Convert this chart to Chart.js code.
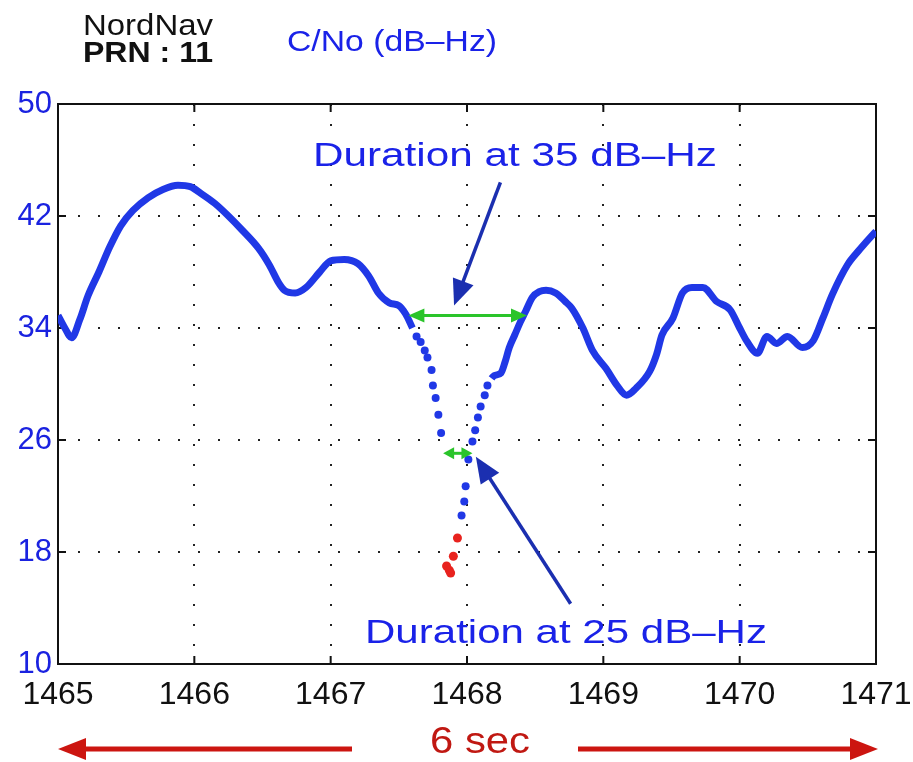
<!DOCTYPE html>
<html>
<head>
<meta charset="utf-8">
<script src="https://cdn.jsdelivr.net/npm/chart.js@4/dist/chart.umd.min.js"></script>
<style>
  html, body { margin: 0; padding: 0; background: #fff; }
  #wrap { width: 913px; height: 762px; }
</style>
</head>
<body>
<div id="wrap"><canvas id="cnoChart" width="913" height="762"></canvas></div>
<script>
// --- Data ---
const xTicks = [1465, 1466, 1467, 1468, 1469, 1470, 1471];
const yTicks = [10, 18, 26, 34, 42, 50];

// C/No track, seconds
const cnoTime = [
  1465.00, 1465.05, 1465.10, 1465.16, 1465.22, 1465.30, 1465.38, 1465.46, 1465.55, 1465.66,
  1465.77, 1465.88, 1465.97, 1466.05, 1466.15, 1466.25, 1466.35, 1466.47, 1466.55, 1466.62,
  1466.66, 1466.74, 1466.82, 1466.92, 1467.00, 1467.10, 1467.20, 1467.28, 1467.35, 1467.43,
  1467.50, 1467.55, 1467.60,
  // dip (sparse samples)
  1467.63, 1467.66, 1467.69, 1467.71, 1467.74, 1467.75, 1467.77, 1467.79, 1467.81,
  1467.96, 1467.98, 1467.99, 1468.01, 1468.04, 1468.06, 1468.08, 1468.10, 1468.13, 1468.15, 1468.18,
  // recovery
  1468.20, 1468.25, 1468.28, 1468.31, 1468.35, 1468.39, 1468.43, 1468.48, 1468.53, 1468.58,
  1468.65, 1468.72, 1468.77, 1468.85, 1468.92, 1469.02, 1469.10, 1469.17, 1469.24, 1469.34,
  1469.39, 1469.43, 1469.51, 1469.58, 1469.65, 1469.73, 1469.83, 1469.93, 1470.00, 1470.05,
  1470.13, 1470.20, 1470.27, 1470.35, 1470.46, 1470.54, 1470.61, 1470.68, 1470.79, 1470.88,
  1470.97, 1471.00
];
const cnoValue = [
  34.9, 34.0, 33.3, 34.6, 36.3, 38.0, 39.8, 41.3, 42.4, 43.3,
  43.9, 44.2, 44.1, 43.6, 42.9, 42.0, 41.0, 39.7, 38.5, 37.2,
  36.7, 36.5, 36.9, 38.0, 38.8, 38.9, 38.6, 37.7, 36.5, 35.8,
  35.6, 35.0, 34.0,
  33.4, 33.0, 32.4, 31.9, 31.0, 29.9, 29.0, 27.8, 26.5,
  20.6, 21.6, 22.7, 24.6, 25.9, 26.7, 27.6, 28.4, 29.2, 29.9, 30.4,
  30.6, 30.8, 31.6, 32.6, 33.5, 34.4, 35.2, 36.2, 36.6, 36.7,
  36.5, 35.9, 35.4, 34.0, 32.4, 31.1, 29.9, 29.2, 29.7, 30.9,
  32.1, 33.5, 34.7, 36.5, 36.9, 36.9, 35.9, 35.3, 34.0, 33.1,
  32.2, 33.4, 32.9, 33.4, 32.6, 33.1, 34.7, 36.4, 38.5, 39.6,
  40.6, 40.9
];

// samples below tracking threshold (red)
const lostTime = [1467.85, 1467.87, 1467.88, 1467.90, 1467.93];
const lostValue = [17.0, 16.7, 16.5, 17.7, 19.0];

const DIP_START = 1467.60;
const DIP_END = 1468.18;

const BLUE = "#2038e6";
const RED = "#e8231e";
const FONT = "'Liberation Sans', Arial, sans-serif";

// --- Annotation drawing ---
function arrowHead(ctx, x0, y0, x1, y1, len, half) {
  const a = Math.atan2(y1 - y0, x1 - x0);
  ctx.beginPath();
  ctx.moveTo(x1, y1);
  ctx.lineTo(x1 - len * Math.cos(a) + half * Math.sin(a), y1 - len * Math.sin(a) - half * Math.cos(a));
  ctx.lineTo(x1 - len * Math.cos(a) - half * Math.sin(a), y1 - len * Math.sin(a) + half * Math.cos(a));
  ctx.closePath();
  ctx.fill();
}

function arrow(ctx, x0, y0, x1, y1, color, width, len, half, both) {
  const a = Math.atan2(y1 - y0, x1 - x0);
  ctx.save();
  ctx.strokeStyle = color;
  ctx.fillStyle = color;
  ctx.lineWidth = width;
  ctx.beginPath();
  ctx.moveTo(both ? x0 + len * 0.8 * Math.cos(a) : x0, both ? y0 + len * 0.8 * Math.sin(a) : y0);
  ctx.lineTo(x1 - len * 0.8 * Math.cos(a), y1 - len * 0.8 * Math.sin(a));
  ctx.stroke();
  arrowHead(ctx, x0, y0, x1, y1, len, half);
  if (both) arrowHead(ctx, x1, y1, x0, y0, len, half);
  ctx.restore();
}

function stretchText(ctx, text, cx, y, font, color, targetWidth) {
  ctx.save();
  ctx.font = font;
  ctx.fillStyle = color;
  ctx.textAlign = "center";
  ctx.textBaseline = "alphabetic";
  const w = ctx.measureText(text).width;
  ctx.translate(cx, y);
  ctx.scale(targetWidth / w, 1);
  ctx.fillText(text, 0, 0);
  ctx.restore();
}

const annotations = {
  id: "annotations",
  beforeDatasetsDraw(chart) {
    const { ctx, chartArea: ca, scales: { x, y } } = chart;
    // frame and inward tick marks
    ctx.save();
    ctx.strokeStyle = "#111";
    ctx.lineWidth = 2;
    ctx.strokeRect(ca.left, ca.top, ca.right - ca.left, ca.bottom - ca.top);
    ctx.beginPath();
    xTicks.forEach(v => {
      const p = x.getPixelForValue(v);
      ctx.moveTo(p, ca.bottom); ctx.lineTo(p, ca.bottom - 8);
      ctx.moveTo(p, ca.top); ctx.lineTo(p, ca.top + 8);
    });
    yTicks.forEach(v => {
      const p = y.getPixelForValue(v);
      ctx.moveTo(ca.left, p); ctx.lineTo(ca.left + 8, p);
      ctx.moveTo(ca.right, p); ctx.lineTo(ca.right - 8, p);
    });
    ctx.stroke();
    ctx.restore();
  },
  afterDatasetsDraw(chart) {
    const { ctx, chartArea: ca, scales: { x, y } } = chart;
    const X = v => x.getPixelForValue(v);
    const Y = v => y.getPixelForValue(v);

    // durations (green)
    arrow(ctx, X(1467.57), Y(34.9), X(1468.44), Y(34.9), "#2ac42a", 3, 16, 7, true);
    arrow(ctx, X(1467.825), Y(25.05), X(1468.04), Y(25.05), "#2ac42a", 3, 11, 6, true);

    // pointers (blue)
    arrow(ctx, X(1468.245), Y(44.4), X(1467.905), Y(35.6), "#1b2fb0", 3.5, 26, 11, false);
    arrow(ctx, X(1468.76), Y(14.3), X(1468.065), Y(24.8), "#1b2fb0", 3.5, 26, 11, false);

    stretchText(ctx, "Duration at 35 dB\u2013Hz", 515, 166, "34px " + FONT, "#1a22e8", 404);
    stretchText(ctx, "Duration at 25 dB\u2013Hz", 566, 643, "34px " + FONT, "#1a22e8", 402);

    // header
    stretchText(ctx, "NordNav", 148, 35, "30px " + FONT, "#111", 130);
    stretchText(ctx, "PRN : 11", 148, 62, "bold 29px " + FONT, "#111", 130);
    stretchText(ctx, "C/No (dB\u2013Hz)", 392, 51, "29px " + FONT, "#1a22e8", 210);

    // 6 sec span
    const ay = ca.bottom + 85;
    arrow(ctx, 352, ay, ca.left, ay, "#cc1510", 5, 28, 11, false);
    arrow(ctx, 578, ay, ca.right + 2, ay, "#cc1510", 5, 28, 11, false);
    stretchText(ctx, "6 sec", 480, 753, "37px " + FONT, "#c01812", 100);
  }
};

// --- Chart ---
const inDip = v => v > DIP_START && v < DIP_END;

new Chart(document.getElementById("cnoChart"), {
  type: "line",
  data: {
    datasets: [
      {
        label: "C/No",
        data: cnoTime.map((t, i) => ({ x: t, y: cnoValue[i] })),
        borderColor: BLUE,
        backgroundColor: BLUE,
        borderWidth: 7,
        cubicInterpolationMode: "monotone",
        pointRadius: ctx => (ctx.raw && inDip(ctx.raw.x) ? 4 : 0),
        pointBorderWidth: 0,
        segment: {
          borderColor: ctx => (ctx.p0.parsed.x >= DIP_START && ctx.p1.parsed.x <= DIP_END ? "rgba(0,0,0,0)" : BLUE)
        }
      },
      {
        label: "Lost",
        data: lostTime.map((t, i) => ({ x: t, y: lostValue[i] })),
        showLine: false,
        pointRadius: 4.5,
        pointBorderWidth: 0,
        backgroundColor: RED,
        borderColor: RED
      }
    ]
  },
  options: {
    responsive: false,
    animation: false,
    layout: { padding: { top: 104, right: 37, left: 0, bottom: 0 } },
    plugins: { legend: { display: false }, tooltip: { enabled: false } },
    scales: {
      x: {
        type: "linear",
        min: 1465,
        max: 1471,
        afterBuildTicks: axis => { axis.ticks = xTicks.map(v => ({ value: v })); },
        afterFit: axis => { axis.height = 98; axis.paddingLeft = 0; axis.paddingRight = 0; },
        ticks: {
          color: "#111",
          padding: 12,
          maxRotation: 0,
          autoSkip: false,
          callback: v => String(v),
          font: { family: FONT, size: 32 }
        },
        grid: { color: "#222", lineWidth: 2, drawTicks: false },
        border: { display: false, dash: [2, 18] }
      },
      y: {
        min: 10,
        max: 50,
        afterBuildTicks: axis => { axis.ticks = yTicks.map(v => ({ value: v })); },
        afterFit: axis => { axis.width = 58; axis.paddingTop = 0; axis.paddingBottom = 0; },
        ticks: {
          color: "#1a22e0",
          padding: 6,
          font: { family: FONT, size: 31 }
        },
        grid: { color: "#222", lineWidth: 2, drawTicks: false },
        border: { display: false, dash: [2, 18] }
      }
    }
  },
  plugins: [annotations]
});
</script>
</body>
</html>
